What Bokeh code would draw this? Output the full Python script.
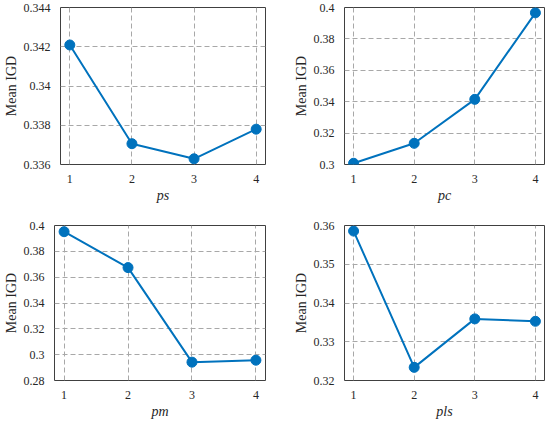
from bokeh.plotting import figure
from bokeh.layouts import column, row
from bokeh.models import Range1d, FixedTicker
from bokeh.embed import file_html
from bokeh.resources import INLINE

x_levels = [1, 2, 3, 4]
x_tick_labels = ["1", "2", "3", "4"]

ps_vals = [0.34209, 0.33706, 0.33629, 0.33780]
pc_vals = [0.3008, 0.3135, 0.3415, 0.3966]
pm_vals = [0.3952, 0.3674, 0.2942, 0.2957]
pls_vals = [0.35856, 0.32339, 0.33590, 0.33528]

ps_ticks = [0.336, 0.338, 0.34, 0.342, 0.344]
ps_tick_labels = ["0.336", "0.338", "0.34", "0.342", "0.344"]
pc_ticks = [0.3, 0.32, 0.34, 0.36, 0.38, 0.4]
pc_tick_labels = ["0.3", "0.32", "0.34", "0.36", "0.38", "0.4"]
pm_ticks = [0.28, 0.3, 0.32, 0.34, 0.36, 0.38, 0.4]
pm_tick_labels = ["0.28", "0.3", "0.32", "0.34", "0.36", "0.38", "0.4"]
pls_ticks = [0.32, 0.33, 0.34, 0.35, 0.36]
pls_tick_labels = ["0.32", "0.33", "0.34", "0.35", "0.36"]

x_names = ["ps", "pc", "pm", "pls"]
y_name = "Mean IGD"

BLUE = "#0072BD"
FONT = "'Liberation Serif', 'Times New Roman', serif"
TXT = "#262626"


def make(vals, ticks, tick_labels, xname, width, height, mbl, mbr, mbt, mbb):
    p = figure(width=width, height=height, output_backend="svg", toolbar_location=None,
               x_range=Range1d(0.85, 4.15), y_range=Range1d(ticks[0], ticks[-1]),
               min_border_left=mbl, min_border_right=mbr, min_border_top=mbt,
               min_border_bottom=mbb)
    p.line(x_levels, vals, line_color=BLUE, line_width=2)
    p.scatter(x_levels, vals, size=10, fill_color=BLUE, line_color=BLUE)
    p.xaxis.ticker = FixedTicker(ticks=x_levels)
    p.xaxis.major_label_overrides = {t: l for t, l in zip(x_levels, x_tick_labels)}
    p.yaxis.ticker = FixedTicker(ticks=ticks)
    p.yaxis.major_label_overrides = {t: l for t, l in zip(ticks, tick_labels)}
    p.xaxis.axis_label = xname
    p.yaxis.axis_label = y_name
    p.xaxis.axis_label_text_font_style = "italic"
    p.yaxis.axis_label_text_font_style = "normal"
    for ax in (p.xaxis, p.yaxis):
        ax.axis_label_text_font = FONT
        ax.axis_label_text_font_size = "14px"
        ax.axis_label_text_color = TXT
        ax.major_label_text_font = FONT
        ax.major_label_text_font_size = "12px"
        ax.major_label_text_color = TXT
        ax.major_tick_line_color = None
        ax.minor_tick_line_color = None
        ax.axis_line_color = None
        ax.major_label_standoff = 4
        ax.axis_label_standoff = 2
    p.grid.grid_line_color = "#a8a8a8"
    p.grid.grid_line_dash = "5 3"
    p.grid.grid_line_width = 1
    p.outline_line_color = "#404040"
    p.outline_line_width = 1
    p.outline_line_alpha = 1
    p.background_fill_color = "white"
    p.border_fill_color = "white"
    return p


p1 = make(ps_vals, ps_ticks, ps_tick_labels, x_names[0], 290, 217, 53, 25, 7, 53)
p2 = make(pc_vals, pc_ticks, pc_tick_labels, x_names[1], 258, 217, 42, 4, 7, 53)
p3 = make(pm_vals, pm_ticks, pm_tick_labels, x_names[2], 290, 204, 53, 25, 8, 37)
p4 = make(pls_vals, pls_ticks, pls_tick_labels, x_names[3], 258, 204, 42, 4, 8, 37)

layout = column(row(p1, p2), row(p3, p4))
open("out.html", "w").write(file_html(layout, INLINE))
